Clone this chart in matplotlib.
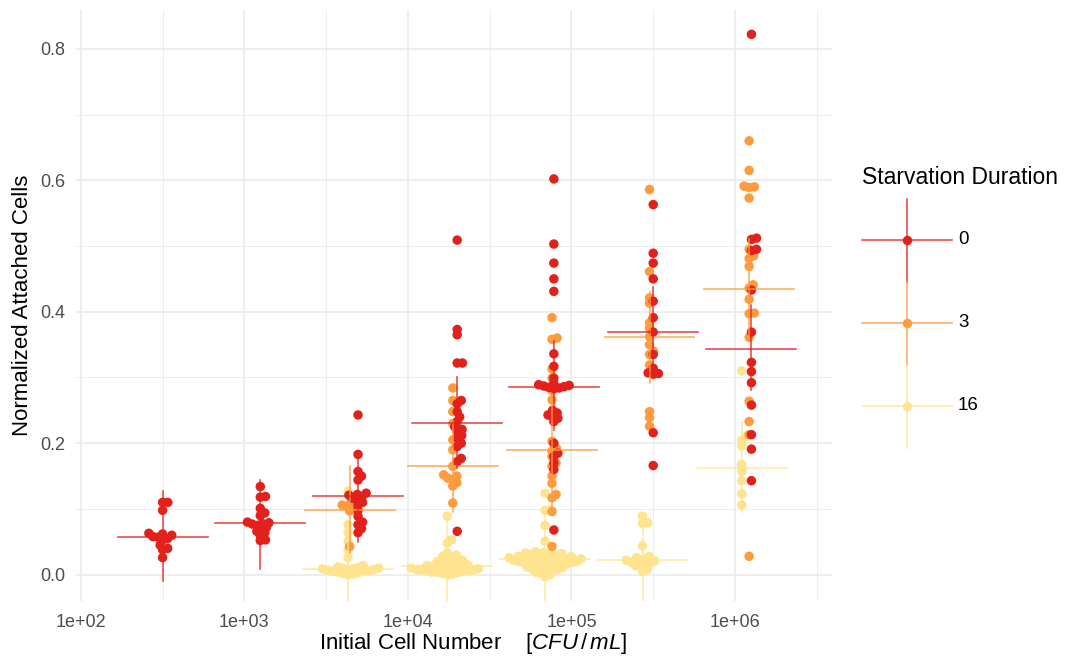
import numpy as np
import matplotlib
matplotlib.use("Agg")
import matplotlib.pyplot as plt
from matplotlib.lines import Line2D
from matplotlib.legend_handler import HandlerBase

plt.rcParams['font.family'] = ['Liberation Sans', 'DejaVu Sans']
plt.rcParams['mathtext.fontset'] = 'custom'
plt.rcParams['mathtext.rm'] = 'Liberation Sans'
plt.rcParams['mathtext.it'] = 'Liberation Sans:italic'

# ---- data ----
durations = ['0', '3', '16']
colors = {'0': '#E3211C', '3': '#FD9B3E', '16': '#FEE48F'}

# starvation 0 h
x_red = [316, 1250, 4950, 2.0e4, 7.8e4, 3.16e5, 1.26e6]
y_red = [
    [0.110, 0.110, 0.098, 0.063, 0.062, 0.060, 0.058, 0.057, 0.055, 0.053, 0.045, 0.040, 0.038, 0.026],
    [0.134, 0.119, 0.118, 0.101, 0.094, 0.090, 0.080, 0.079, 0.078, 0.077, 0.075, 0.072, 0.070, 0.066,
     0.064, 0.060, 0.053, 0.052],
    [0.243, 0.183, 0.157, 0.150, 0.144, 0.124, 0.122, 0.121, 0.119, 0.116, 0.114, 0.110, 0.106, 0.098,
     0.089, 0.080, 0.076, 0.070, 0.064],
    [0.509, 0.373, 0.365, 0.322, 0.322, 0.265, 0.260, 0.248, 0.240, 0.233, 0.225, 0.221, 0.218, 0.212,
     0.208, 0.200, 0.195, 0.177, 0.172, 0.066],
    [0.602, 0.503, 0.474, 0.450, 0.431, 0.336, 0.317, 0.299, 0.291, 0.289, 0.288, 0.287, 0.286, 0.285,
     0.284, 0.283, 0.250, 0.246, 0.243, 0.241, 0.238, 0.233, 0.200, 0.185, 0.180, 0.170, 0.160, 0.068],
    [0.563, 0.489, 0.474, 0.450, 0.416, 0.391, 0.369, 0.335, 0.314, 0.307, 0.306, 0.305, 0.216, 0.166],
    [0.822, 0.512, 0.510, 0.495, 0.493, 0.433, 0.369, 0.323, 0.309, 0.292, 0.258, 0.213, 0.191, 0.143],
]
mean_red = [0.058, 0.078, 0.119, 0.231, 0.286, 0.369, 0.343]
lo_red = [-0.010, 0.009, 0.049, 0.163, 0.220, 0.302, 0.281]
hi_red = [0.127, 0.144, 0.178, 0.300, 0.355, 0.438, 0.410]

# starvation 3 h
x_orange = [4400, 1.88e4, 7.6e4, 3.0e5, 1.22e6]
y_orange = [
    [0.110, 0.106, 0.104, 0.100, 0.097, 0.043],
    [0.284, 0.265, 0.248, 0.230, 0.205, 0.190, 0.165, 0.152, 0.150, 0.147, 0.145, 0.140, 0.135, 0.109],
    [0.391, 0.360, 0.358, 0.313, 0.299, 0.280, 0.266, 0.240, 0.203, 0.192, 0.188, 0.180, 0.170, 0.165,
     0.150, 0.139, 0.122, 0.117, 0.096, 0.043],
    [0.586, 0.461, 0.421, 0.413, 0.383, 0.375, 0.362, 0.350, 0.340, 0.335, 0.319, 0.248, 0.239, 0.226],
    [0.660, 0.615, 0.591, 0.590, 0.589, 0.573, 0.495, 0.485, 0.481, 0.469, 0.441, 0.436, 0.419, 0.398,
     0.397, 0.361, 0.264, 0.233, 0.213, 0.028],
]
mean_orange = [0.099, 0.165, 0.189, 0.361, 0.434]
lo_orange = [0.033, 0.096, 0.104, 0.292, 0.360]
hi_orange = [0.165, 0.234, 0.274, 0.430, 0.510]

# starvation 16 h
x_yellow = [4300, 1.74e4, 6.9e4, 2.72e5, 1.1e6]
y_yellow = [
    [0.127, 0.076, 0.064, 0.051, 0.038, 0.026, 0.014, 0.012, 0.011, 0.010, 0.010, 0.009,
     0.009, 0.008, 0.008, 0.007, 0.006, 0.006, 0.005, 0.004, 0.003, 0.002, 0.001, 0.000],
    [0.089, 0.053, 0.048, 0.033, 0.030, 0.028, 0.025, 0.024, 0.022, 0.020, 0.019, 0.018, 0.017, 0.016,
     0.015, 0.014, 0.013, 0.012, 0.012, 0.011, 0.010, 0.010, 0.009, 0.009, 0.008, 0.008, 0.007, 0.007,
     0.006, 0.006, 0.005, 0.004, 0.004, 0.003, 0.002, 0.001, 0.000],
    [0.124, 0.099, 0.098, 0.075, 0.051, 0.035, 0.034, 0.033, 0.032, 0.031, 0.030, 0.030, 0.029, 0.028,
     0.028, 0.027, 0.026, 0.026, 0.025, 0.025, 0.024, 0.024, 0.023, 0.023, 0.022, 0.022, 0.021, 0.021,
     0.020, 0.020, 0.019, 0.018, 0.018, 0.017, 0.016, 0.016, 0.015, 0.014, 0.013, 0.012, 0.011, 0.010,
     0.009, 0.008, 0.007, 0.006, 0.004, 0.002, 0.000, -0.003],
    [0.089, 0.079, 0.078, 0.044, 0.028, 0.026, 0.024, 0.022, 0.021, 0.020, 0.019, 0.018, 0.016, 0.014,
     0.012, 0.008, 0.005],
    [0.310, 0.210, 0.205, 0.196, 0.168, 0.157, 0.143, 0.123, 0.106],
]
mean_yellow = [0.009, 0.013, 0.024, 0.022, 0.163]
lo_yellow = [-0.060, -0.063, -0.060, -0.060, 0.095]
hi_yellow = [0.065, 0.089, 0.100, 0.070, 0.232]

series = [
    ('16', x_yellow, y_yellow, mean_yellow, lo_yellow, hi_yellow),
    ('3', x_orange, y_orange, mean_orange, lo_orange, hi_orange),
    ('0', x_red, y_red, mean_red, lo_red, hi_red),
]

GRID = '#EBEBEB'
DOT = 9.5      # point diameter in pixels
BAR_HALF = 0.275  # half width of the horizontal bar, in decades


def beeswarm(ax, xc, ys, d):
    # simple swarm layout in pixel space, returns x data positions
    tr = ax.transData
    pts = tr.transform(np.column_stack([np.full(len(ys), xc), ys]))
    x0 = pts[0, 0]
    py = pts[:, 1]
    offs = np.zeros(len(ys))
    placed = []
    for i in np.argsort(py):
        cands = [0.0]
        for j in placed:
            dy = py[i] - py[j]
            if abs(dy) < d:
                dx = np.sqrt(d * d - dy * dy)
                cands += [offs[j] + dx, offs[j] - dx]
        cands = sorted(cands, key=abs)
        for c in cands:
            ok = True
            for j in placed:
                if (c - offs[j]) ** 2 + (py[i] - py[j]) ** 2 < d * d - 1e-6:
                    ok = False
                    break
            if ok:
                offs[i] = c
                break
        placed.append(i)
    inv = tr.inverted()
    back = inv.transform(np.column_stack([x0 + offs, py]))
    return back[:, 0]


fig = plt.figure(figsize=(10.65, 6.58), dpi=100)
ax = fig.add_axes([76 / 1065, 57 / 658, (832 - 76) / 1065, (601 - 10) / 658])
ax.set_xscale('log')
ax.set_xlim(10 ** 1.97, 10 ** 6.593)
ax.set_ylim(-0.040, 0.859)

# grid, ggplot minimal style
for v in [0.1, 0.3, 0.5, 0.7]:
    ax.axhline(v, color=GRID, lw=0.6, zorder=0)
for v in [0.0, 0.2, 0.4, 0.6, 0.8]:
    ax.axhline(v, color=GRID, lw=1.2, zorder=0)
for e in [2.5, 3.5, 4.5, 5.5, 6.5]:
    ax.axvline(10 ** e, color=GRID, lw=0.6, zorder=0)
for e in [2, 3, 4, 5, 6]:
    ax.axvline(10 ** e, color=GRID, lw=1.2, zorder=0)

for name, xs, ys, means, los, his in series:
    c = colors[name]
    for k in range(len(xs)):
        xj = beeswarm(ax, xs[k], ys[k], DOT * 0.55)
        ax.scatter(xj, ys[k], s=(DOT * 0.72) ** 2, color=c, edgecolors='none', zorder=3)
        ax.plot([xs[k] / 10 ** BAR_HALF, xs[k] * 10 ** BAR_HALF], [means[k], means[k]],
                color=c, lw=1.2, alpha=0.8, zorder=4)
        ax.plot([xs[k], xs[k]], [los[k], his[k]], color=c, lw=1.2, alpha=0.8, zorder=4)

ax.set_xticks([1e2, 1e3, 1e4, 1e5, 1e6])
ax.set_xticklabels(['1e+02', '1e+03', '1e+04', '1e+05', '1e+06'])
ax.xaxis.set_minor_locator(plt.NullLocator())
ax.set_yticks([0.0, 0.2, 0.4, 0.6, 0.8])
ax.set_yticklabels(['0.0', '0.2', '0.4', '0.6', '0.8'])
ax.tick_params(length=0, labelsize=13, labelcolor='#4D4D4D')
ax.tick_params(axis='x', pad=9.5)
ax.tick_params(axis='y', pad=8)
for s in ax.spines.values():
    s.set_visible(False)
ax.set_xlabel(r'Initial Cell Number    $[CFU\,/\,mL]$', fontsize=16)
ax.xaxis.set_label_coords((473 - 76) / 756, -0.050)
ax.set_ylabel('Normalized Attached Cells', fontsize=16, labelpad=5)


class CrossHandler(HandlerBase):
    def create_artists(self, legend, orig_handle, xdescent, ydescent, width, height, fontsize, trans):
        c = orig_handle.get_color()
        cx = width / 2 - xdescent
        cy = height / 2 - ydescent
        h = Line2D([-xdescent, width - xdescent], [cy, cy], color=c, lw=1.2, alpha=0.8, transform=trans)
        v = Line2D([cx, cx], [-ydescent, height - ydescent], color=c, lw=1.2, alpha=0.8, transform=trans)
        p = Line2D([cx], [cy], marker='o', ms=DOT * 0.72, color=c, mec='none', lw=0, transform=trans)
        return [h, v, p]


fig.text(862 / 1065, 1 - 178 / 658, 'Starvation Duration', fontsize=16.5, ha='left', va='center')
handles = [Line2D([], [], color=colors[d]) for d in durations]
leg = fig.legend(handles, durations, loc='upper left', bbox_to_anchor=(862 / 1065, 1 - 199 / 658),
                 handler_map={Line2D: CrossHandler()}, frameon=False, fontsize=13.5,
                 handlelength=4.8, handleheight=6.43,
                 labelspacing=0, handletextpad=0.32, borderpad=0, borderaxespad=0)

fig.savefig('out.png', dpi=100)
